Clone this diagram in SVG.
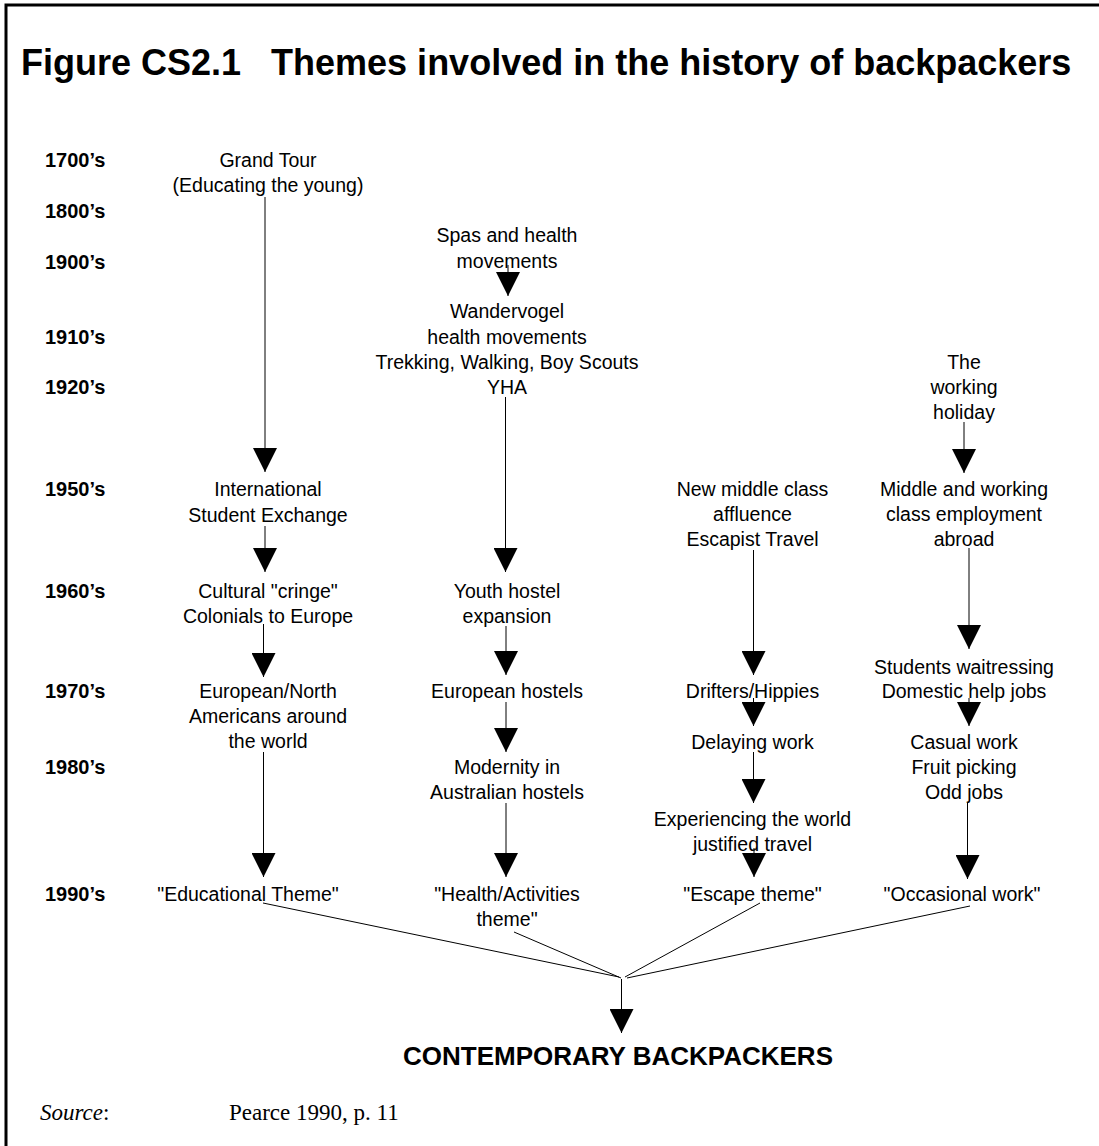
<svg xmlns="http://www.w3.org/2000/svg" width="1099" height="1146" viewBox="0 0 1099 1146">
<defs>
<style>
.t{font-family:"Liberation Sans",Arial,sans-serif;font-size:19.5px;fill:#000;text-anchor:middle}
.yr{font-family:"Liberation Sans",Arial,sans-serif;font-size:20px;font-weight:bold;fill:#000}
.ln{stroke:#000;stroke-width:1;fill:none}
.ar{stroke:#000;stroke-width:1;fill:none;marker-end:url(#ah)}
</style>
<marker id="ah" markerUnits="userSpaceOnUse" markerWidth="24" markerHeight="24" refX="24" refY="12" orient="auto" viewBox="0 0 24 24">
<path d="M0,0 L24,12 L0,24 Z" fill="#000"/>
</marker>
</defs>
<rect width="1099" height="1146" fill="#fff"/>
<path d="M6,1146 V5 H1099" stroke="#000" stroke-width="3" fill="none"/>
<text x="21" y="75" font-family="Liberation Sans,Arial,sans-serif" font-size="36" font-weight="bold" xml:space="preserve">Figure CS2.1   Themes involved in the history of backpackers</text>

<g id="years">
<text class="yr" x="45" y="167">1700’s</text>
<text class="yr" x="45" y="218">1800’s</text>
<text class="yr" x="45" y="269">1900’s</text>
<text class="yr" x="45" y="344">1910’s</text>
<text class="yr" x="45" y="394">1920’s</text>
<text class="yr" x="45" y="496">1950’s</text>
<text class="yr" x="45" y="598">1960’s</text>
<text class="yr" x="45" y="698">1970’s</text>
<text class="yr" x="45" y="774">1980’s</text>
<text class="yr" x="45" y="901">1990’s</text>
</g>

<g id="connectors">
<line class="ar" x1="265" y1="197" x2="265" y2="472"/>
<line class="ar" x1="265" y1="526" x2="265" y2="572"/>
<line class="ar" x1="263.5" y1="624" x2="263.5" y2="677"/>
<line class="ar" x1="263.5" y1="752" x2="263.5" y2="877"/>
<line class="ar" x1="508" y1="265" x2="508" y2="296"/>
<line class="ar" x1="505.5" y1="397" x2="505.5" y2="572"/>
<line class="ar" x1="506" y1="626" x2="506" y2="675"/>
<line class="ar" x1="506" y1="702" x2="506" y2="752"/>
<line class="ar" x1="506" y1="803" x2="506" y2="877"/>
<line class="ar" x1="753.5" y1="550" x2="753.5" y2="675"/>
<line class="ar" x1="753.5" y1="698" x2="753.5" y2="726"/>
<line class="ar" x1="753.5" y1="752" x2="753.5" y2="803"/>
<line class="ar" x1="754" y1="848" x2="754" y2="877"/>
<line class="ar" x1="964" y1="422" x2="964" y2="473"/>
<line class="ar" x1="969" y1="548" x2="969" y2="649"/>
<line class="ar" x1="969" y1="698" x2="969" y2="726"/>
<line class="ar" x1="967.5" y1="803" x2="967.5" y2="879"/>
<line class="ln" x1="263" y1="903" x2="619" y2="977"/>
<line class="ln" x1="514" y1="932" x2="621" y2="978"/>
<line class="ln" x1="760" y1="903" x2="625" y2="977"/>
<line class="ln" x1="970" y1="906" x2="627" y2="978"/>
<line class="ar" x1="621.5" y1="979" x2="621.5" y2="1033"/>
</g>

<g id="n-grand-tour"><text class="t" x="268" y="167">Grand Tour</text><text class="t" x="268" y="192">(Educating the young)</text></g>
<g id="n-intl-exchange"><text class="t" x="268" y="496">International</text><text class="t" x="268" y="522">Student Exchange</text></g>
<g id="n-cultural-cringe"><text class="t" x="268" y="598">Cultural "cringe"</text><text class="t" x="268" y="623">Colonials to Europe</text></g>
<g id="n-european-north"><text class="t" x="268" y="698">European/North</text><text class="t" x="268" y="723">Americans around</text><text class="t" x="268" y="748">the world</text></g>
<g id="n-educational"><text class="t" x="248" y="901">"Educational Theme"</text></g>

<g id="n-spas"><text class="t" x="507" y="242">Spas and health</text><text class="t" x="507" y="268">movements</text></g>
<g id="n-wandervogel"><text class="t" x="507" y="318">Wandervogel</text><text class="t" x="507" y="344">health movements</text><text class="t" x="507" y="369">Trekking, Walking, Boy Scouts</text><text class="t" x="507" y="394">YHA</text></g>
<g id="n-youth-hostel"><text class="t" x="507" y="598">Youth hostel</text><text class="t" x="507" y="623">expansion</text></g>
<g id="n-european-hostels"><text class="t" x="507" y="698">European hostels</text></g>
<g id="n-modernity"><text class="t" x="507" y="774">Modernity in</text><text class="t" x="507" y="799">Australian hostels</text></g>
<g id="n-health"><text class="t" x="507" y="901">"Health/Activities</text><text class="t" x="507" y="926">theme"</text></g>

<g id="n-new-middle"><text class="t" x="752.5" y="496">New middle class</text><text class="t" x="752.5" y="521">affluence</text><text class="t" x="752.5" y="546">Escapist Travel</text></g>
<g id="n-drifters"><text class="t" x="752.5" y="698">Drifters/Hippies</text></g>
<g id="n-delaying"><text class="t" x="752.5" y="749">Delaying work</text></g>
<g id="n-experiencing"><text class="t" x="752.5" y="826">Experiencing the world</text><text class="t" x="752.5" y="851">justified travel</text></g>
<g id="n-escape"><text class="t" x="752.5" y="901">"Escape theme"</text></g>

<g id="n-working-holiday"><text class="t" x="964" y="369">The</text><text class="t" x="964" y="394">working</text><text class="t" x="964" y="419">holiday</text></g>
<g id="n-middle-working"><text class="t" x="964" y="496">Middle and working</text><text class="t" x="964" y="521">class employment</text><text class="t" x="964" y="546">abroad</text></g>
<g id="n-students"><text class="t" x="964" y="674">Students waitressing</text><text class="t" x="964" y="698">Domestic help jobs</text></g>
<g id="n-casual"><text class="t" x="964" y="749">Casual work</text><text class="t" x="964" y="774">Fruit picking</text><text class="t" x="964" y="799">Odd jobs</text></g>
<g id="n-occasional"><text class="t" x="962" y="901">"Occasional work"</text></g>

<g id="n-contemporary"><text x="618" y="1065" font-family="Liberation Sans,Arial,sans-serif" font-size="26" font-weight="bold" text-anchor="middle">CONTEMPORARY BACKPACKERS</text></g>

<text x="40" y="1120" font-family="Liberation Serif,Times New Roman,serif" font-size="23"><tspan font-style="italic">Source</tspan>:</text>
<text x="229" y="1120" font-family="Liberation Serif,Times New Roman,serif" font-size="23">Pearce 1990, p. 11</text>
</svg>
